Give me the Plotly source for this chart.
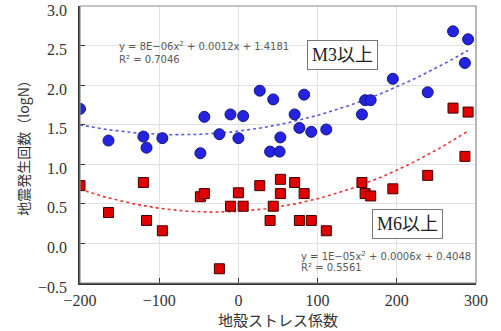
import numpy as np
import plotly.graph_objects as go

# Crustal stress coefficient (x) for each series
stress_m3 = [-200, -164, -120, -116, -96, -48, -43, -24, -10, 0, 6,
             27, 40, 44, 52, 53, 71, 77, 83, 92, 111, 156, 160, 167, 195, 239, 271, 290, 286]
stress_m6 = [-200, -164, -120, -116, -96, -48, -43, -24, -10, 0, 6,
             27, 40, 44, 53, 53, 71, 77, 83, 92, 111, 156, 160, 167, 195, 239, 271, 290, 286]

logN_m3 = [1.70, 1.30, 1.35, 1.21, 1.33, 1.14, 1.60, 1.38, 1.63, 1.33, 1.61,
           1.93, 1.16, 1.82, 1.16, 1.34, 1.63, 1.46, 1.88, 1.41, 1.44, 1.63, 1.81, 1.81,
           2.08, 1.91, 2.68, 2.58, 2.28]
logN_m6 = [0.73, 0.39, 0.77, 0.29, 0.16, 0.59, 0.63, -0.32, 0.47, 0.64, 0.47,
           0.73, 0.29, 0.47, 0.81, 0.63, 0.77, 0.29, 0.63, 0.29, 0.16, 0.77, 0.63, 0.60,
           0.69, 0.86, 1.71, 1.66, 1.10]

# Trendline coefficients (a, b, c) from the chart equations
coef_m3 = [8e-06, 0.0012, 1.4181]
coef_m6 = [1e-05, 0.0006, 0.4048]

x_ticks = [-200, -100, 0, 100, 200, 300]
x_tick_text = ["\u2212200", "\u2212100", "0", "100", "200", "300"]
y_ticks = [-0.5, 0.0, 0.5, 1.0, 1.5, 2.0, 2.5, 3.0]
y_tick_text = ["\u22120.5", "0.0", "0.5", "1.0", "1.5", "2.0", "2.5", "3.0"]

xt = np.linspace(-200, 290, 120)
fit_m3 = np.polyval(coef_m3, xt)
fit_m6 = np.polyval(coef_m6, xt)

fig = go.Figure()
fig.add_trace(go.Scatter(x=xt, y=fit_m3, mode="lines",
                         line=dict(color="#5a5ae0", width=1.6, dash="dot"),
                         showlegend=False, hoverinfo="skip"))
fig.add_trace(go.Scatter(x=xt, y=fit_m6, mode="lines",
                         line=dict(color="#e43a3a", width=1.6, dash="dot"),
                         showlegend=False, hoverinfo="skip"))
fig.add_trace(go.Scatter(x=stress_m3, y=logN_m3, mode="markers",
                         marker=dict(symbol="circle", size=11, color="#2323e0",
                                     line=dict(color="#15157a", width=1)),
                         showlegend=False))
fig.add_trace(go.Scatter(x=stress_m6, y=logN_m6, mode="markers",
                         marker=dict(symbol="square", size=10, color="#e00000",
                                     line=dict(color="#400000", width=1)),
                         showlegend=False))

eq_font = dict(family="DejaVu Sans", size=10, color="#595959")
fig.add_annotation(x=-153, y=2.49, xanchor="left", yanchor="middle", showarrow=False,
                   text="y = 8E\u221206x<sup>2</sup> + 0.0012x + 1.4181", font=eq_font)
fig.add_annotation(x=-153, y=2.33, xanchor="left", yanchor="middle", showarrow=False,
                   text="R\u00b2 = 0.7046", font=eq_font)
fig.add_annotation(x=76, y=-0.155, xanchor="left", yanchor="middle", showarrow=False,
                   text="y = 1E\u221205x<sup>2</sup> + 0.0006x + 0.4048", font=eq_font)
fig.add_annotation(x=76, y=-0.31, xanchor="left", yanchor="middle", showarrow=False,
                   text="R\u00b2 = 0.5561", font=eq_font)

box_font = dict(family="Liberation Serif, Noto Sans CJK JP", size=18, color="#222222")
fig.add_annotation(x=132, y=2.38, showarrow=False, text="M3以上", font=box_font,
                   bordercolor="#777777", borderwidth=1, borderpad=4, bgcolor="white")
fig.add_annotation(x=213, y=0.24, showarrow=False, text="M6以上", font=box_font,
                   bordercolor="#777777", borderwidth=1, borderpad=4, bgcolor="white")

fig.add_shape(type="rect", xref="paper", yref="paper", x0=0, x1=1, y0=0, y1=1,
              line=dict(color="#8a8a8a", width=1.2), layer="above")

tick_font = dict(family="Liberation Serif, Times New Roman, serif", size=16, color="#333333")
title_font_x = dict(family="Noto Sans CJK JP", size=15, color="#333333")
title_font_y = dict(family="Noto Sans CJK JP", size=14, color="#333333")
fig.update_xaxes(range=[-200, 300], tickvals=x_ticks, ticktext=x_tick_text,
                 tickfont=tick_font, showgrid=True, gridcolor="#e2e2e2", gridwidth=1,
                 zeroline=False, showline=True, linecolor="#333333", linewidth=1.5,
                 ticks="inside", ticklen=5, tickcolor="#333333", automargin=False,
                 ticklabelstandoff=2,
                 title=dict(text="地殻ストレス係数", font=title_font_x, standoff=3))
fig.update_yaxes(range=[-0.5, 3.0], tickvals=y_ticks, ticktext=y_tick_text,
                 tickfont=tick_font, showgrid=True, gridcolor="#e2e2e2", gridwidth=1,
                 zeroline=False, showline=True, linecolor="#333333", linewidth=1.5,
                 ticks="inside", ticklen=5, tickcolor="#333333", automargin=False,
                 ticklabelstandoff=8, ticklabelshift=4, ticklabeloverflow="allow",
                 title=dict(text="地震発生回数（logN）", font=title_font_y, standoff=5))

fig.update_layout(width=501, height=331, margin=dict(l=80, r=25, t=6, b=48),
                  plot_bgcolor="white", paper_bgcolor="white")

fig.write_html("out.html", config={"displayModeBar": False},
               post_script="document.body.style.margin='0';document.body.style.overflow='hidden';")
